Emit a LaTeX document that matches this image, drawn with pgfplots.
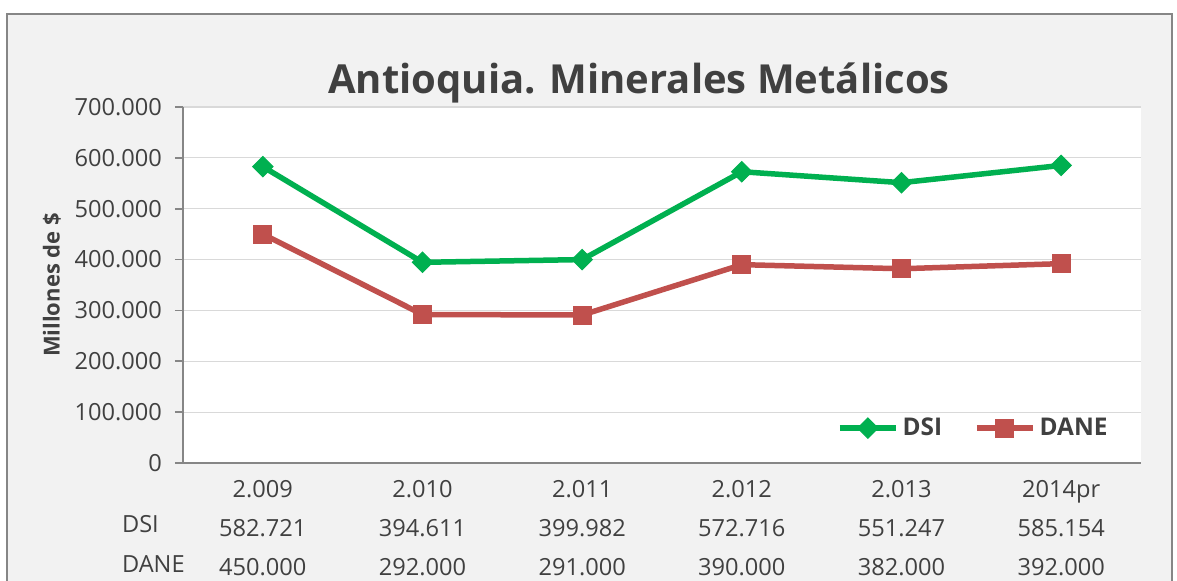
\documentclass[border=0pt]{standalone}
\usepackage{pgfplots}
\pgfplotsset{compat=1.18}
\usepackage{fontspec}
\setmainfont{Open Sans}
\definecolor{bggray}{HTML}{F2F2F2}
\definecolor{bordergray}{HTML}{868686}
\definecolor{gridgray}{HTML}{D9D9D9}
\definecolor{txt}{HTML}{404040}
\definecolor{dsigreen}{RGB}{0,176,80}
\definecolor{danered}{RGB}{192,80,77}
\begin{document}
\begin{tikzpicture}
\path[use as bounding box, fill=white] (0pt,0pt) rectangle (588.5pt,-290.5pt);
\fill[bggray] (3.5pt,-7pt) rectangle (586pt,-290.5pt);
\draw[bordergray, line width=0.8pt] (3.5pt,-290.5pt) -- (3.5pt,-7pt) -- (586pt,-7pt) -- (586pt,-290.5pt);
\begin{axis}[
  at={(91.5pt,-231.5pt)}, anchor=south west,
  scale only axis, width=479pt, height=178pt,
  xmin=-0.5, xmax=5.5, ymin=0, ymax=700,
  axis lines*=left,
  axis line style={bordergray, line width=0.8pt},
  axis background/.style={fill=white},
  ymajorgrids, grid style={gridgray, line width=0.6pt},
  ytick={0,100,...,700},
  yticklabels={0,100.000,200.000,300.000,400.000,500.000,600.000,700.000},
  ytick style={bordergray, line width=0.8pt},
  tick align=outside, major tick length=4pt,
  xtick={0,...,5},
  major x tick style={draw=none},
  xticklabels={{2.009\\582.721\\450.000},{2.010\\394.611\\292.000},{2.011\\399.982\\291.000},{2.012\\572.716\\390.000},{2.013\\551.247\\382.000},{2014pr\\585.154\\392.000}},
  xticklabel style={align=center, font=\fontsize{11.8}{19.5}\selectfont, text=txt, yshift=-1pt},
  yticklabel style={font=\fontsize{11.8}{14}\selectfont, text=txt, xshift=-3pt},
  /pgf/number format/assume math mode=true,
  legend style={at={(rel axis cs:0.826,0.098)}, anchor=center, draw=none, fill=none,
    font=\fontsize{12.2}{14}\selectfont\bfseries, text=txt,
    legend columns=2, /tikz/every even column/.append style={column sep=14pt}},
  legend image code/.code={\draw[mark repeat=2,mark phase=2,#1] plot coordinates {(0pt,0pt) (14pt,0pt) (28pt,0pt)};},
]
\addplot[dsigreen, line width=2.75pt, mark=square*, mark size=3.6pt, mark options={rotate=45, line width=0.5pt, fill=dsigreen}]
  coordinates {(0,582.721) (1,394.611) (2,399.982) (3,572.716) (4,551.247) (5,585.154)};
\addlegendentry{DSI}
\addplot[danered, line width=2.75pt, mark=square*, mark size=4.5pt, mark options={line width=0.5pt, fill=danered}]
  coordinates {(0,450) (1,292) (2,291) (3,390) (4,382) (5,392)};
\addlegendentry{DANE}
\end{axis}
\node[anchor=base, text=txt, font=\fontsize{20}{24}\selectfont\bfseries] at (319.5pt,-47pt) {Antioquia. Minerales Metálicos};
\node[rotate=90, text=txt, font=\fontsize{11}{13}\selectfont\bfseries] at (26pt,-142.5pt) {Millones de \$};
\node[anchor=base west, text=txt, font=\fontsize{11.8}{14}\selectfont] at (57.5pt,-266.5pt) {DSI};
\node[anchor=base west, text=txt, font=\fontsize{11.8}{14}\selectfont] at (57.5pt,-286.5pt) {DANE};
\end{tikzpicture}
\end{document}
